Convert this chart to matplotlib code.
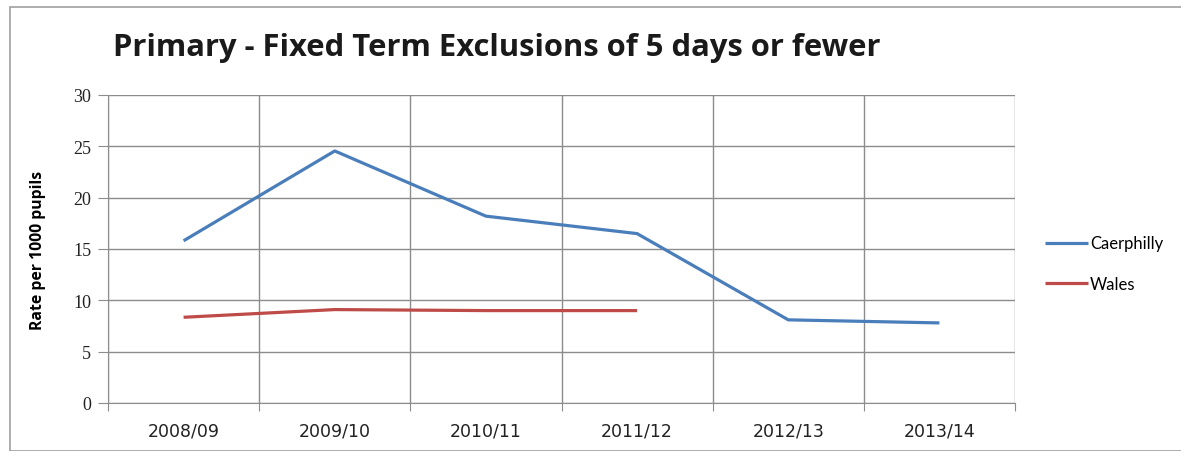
import numpy as np
import matplotlib.pyplot as plt
from matplotlib.patches import Rectangle

years = ['2008/09', '2009/10', '2010/11', '2011/12', '2012/13', '2013/14']
caerphilly = [15.8, 24.55, 18.2, 16.5, 8.1, 7.8]
wales = [8.35, 9.1, 9.0, 9.0]

blue = '#4A7EBB'
red = '#BE4B48'
grid = '#8c8c8c'

fig = plt.figure(figsize=(11.81, 4.52), dpi=100)
# outer chart border
fig.patches.append(Rectangle((10/1181, 0.0), 1.2, 1 - 8/452, transform=fig.transFigure,
                             fill=False, edgecolor='#a0a0a0', linewidth=1.2))

ax = fig.add_axes([108/1181, 1 - 404/452, (1015 - 108)/1181, (404 - 96)/452])

x = np.arange(len(years))
ax.plot(x, caerphilly, color=blue, linewidth=2.3, label='Caerphilly', solid_capstyle='butt')
ax.plot(x[:len(wales)], wales, color=red, linewidth=2.3, label='Wales', solid_capstyle='butt')

ax.set_xlim(-0.5, len(years) - 0.5)
ax.set_ylim(0, 30)
ax.set_yticks(np.arange(0, 31, 5))
ax.set_xticks(np.arange(-0.5, len(years)), minor=False)
ax.set_xticklabels([])
ax.set_xticks(x, minor=True)
ax.set_xticklabels(years, minor=True, fontsize=12.5, family=['Liberation Sans Narrow', 'DejaVu Sans'],
                   color='#222222')
ax.tick_params(axis='x', which='minor', length=0, pad=13)
ax.tick_params(axis='x', which='major', length=6, color=grid, direction='out')
ax.tick_params(axis='y', length=7, color=grid, direction='out', pad=5)
for lab in ax.get_yticklabels():
    lab.set_family('Liberation Serif')
    lab.set_fontsize(13)
    lab.set_color('#222222')

ax.grid(True, which='major', color=grid, linewidth=1)
for s in ax.spines.values():
    s.set_color(grid)
ax.spines['top'].set_visible(False)
ax.spines['right'].set_visible(False)

ax.set_ylabel('Rate per 1000 pupils', fontsize=11.3, fontweight='bold', family='Open Sans')
ax.yaxis.set_label_coords(-62/907, 0.5)

fig.text(113/1181, 1 - 48/452, 'Primary - Fixed Term Exclusions of 5 days or fewer',
         fontsize=22.3, fontweight='bold', family='Open Sans', va='center', ha='left', color='#1a1a1a')

ax.legend(loc='center left', bbox_to_anchor=(1 + 30/907, 0.453), frameon=False,
          borderaxespad=0, borderpad=0,
          handlelength=2.6, handletextpad=0.1, labelspacing=1.45,
          prop={'family': 'Lato', 'size': 12})

fig.savefig('out.png', dpi=100)
